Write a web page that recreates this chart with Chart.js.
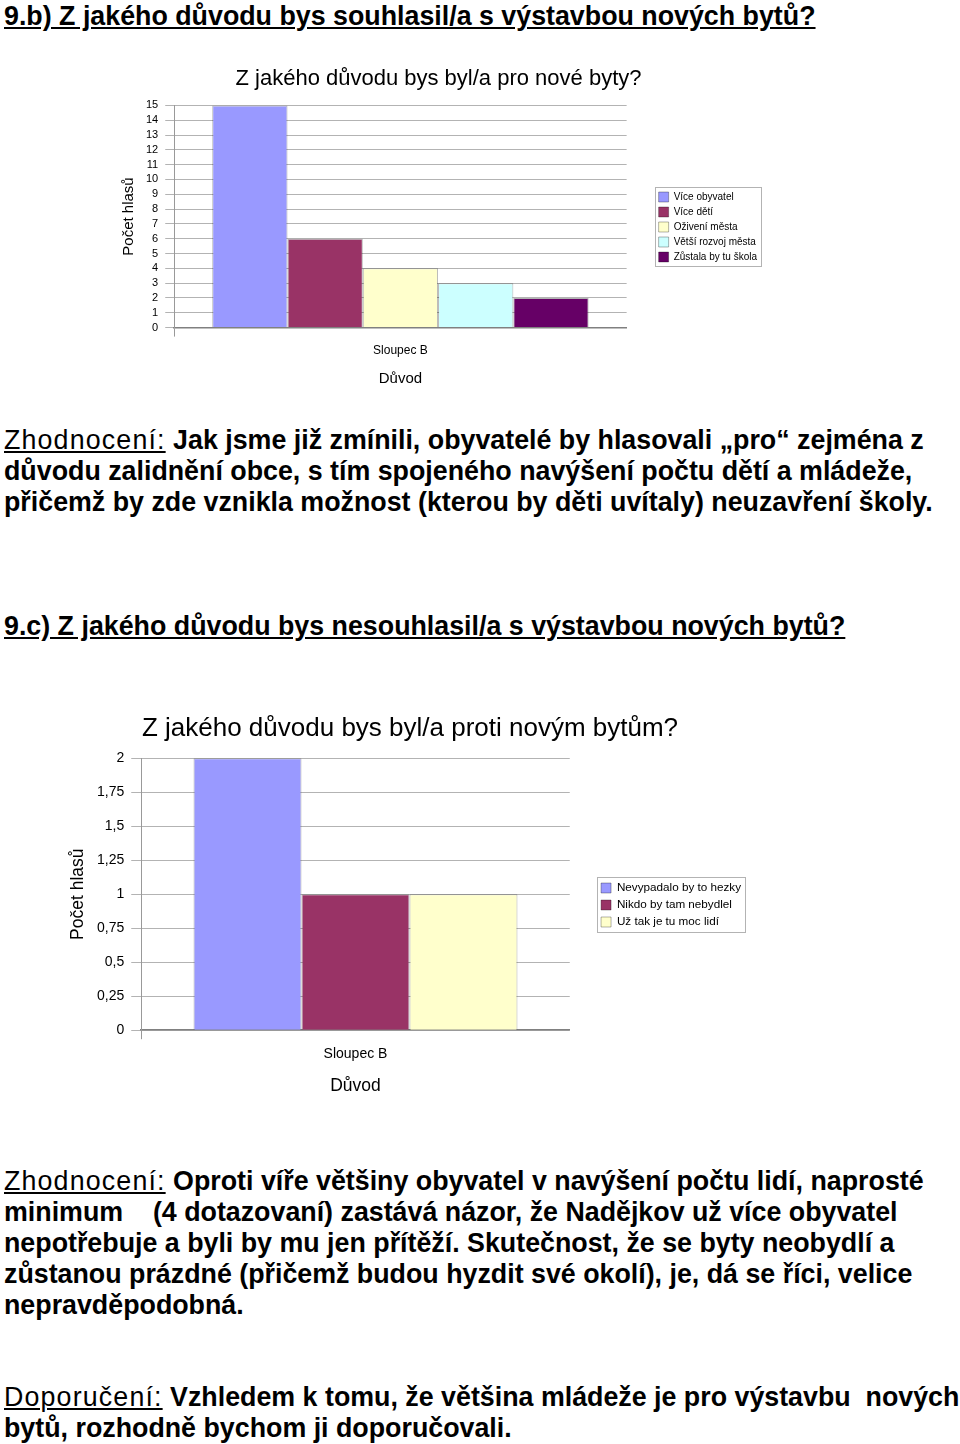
<!DOCTYPE html>
<html lang="cs">
<head>
<meta charset="utf-8">
<title>9.b / 9.c</title>
<script src="https://cdn.jsdelivr.net/npm/chart.js@4.4.1/dist/chart.umd.min.js"></script>
<style>
  html, body { margin: 0; padding: 0; background: #fff; }
  body { width: 960px; height: 1444px; position: relative; overflow: hidden;
         font-family: "Liberation Sans", Arial, sans-serif; color: #000; }
  .txt { position: absolute; left: 4px; font-size: 26.8px; line-height: 31px;
         font-weight: bold; white-space: pre; }
  .u { text-decoration: underline; }
  .lbl { font-weight: normal; text-decoration: underline; letter-spacing: 1.15px; }
  .box { position: absolute; }
</style>
</head>
<body>

<div class="txt u" style="top:1px">9.b) Z jakého důvodu bys souhlasil/a s výstavbou nových bytů?</div>

<div class="box" style="left:100px; top:55px; width:676px; height:340px">
  <canvas id="proChart"></canvas>
</div>

<div class="txt" style="top:425px"><span class="lbl">Zhodnocení:</span> Jak jsme již zmínili, obyvatelé by hlasovali „pro“ zejména z
důvodu zalidnění obce, s tím spojeného navýšení počtu dětí a mládeže,
přičemž by zde vznikla možnost (kterou by děti uvítaly) neuzavření školy.</div>

<div class="txt u" style="top:611px">9.c) Z jakého důvodu bys nesouhlasil/a s výstavbou nových bytů?</div>

<div class="box" style="left:55px; top:700px; width:710px; height:400px">
  <canvas id="protiChart"></canvas>
</div>

<div class="txt" style="top:1166px"><span class="lbl">Zhodnocení:</span> Oproti víře většiny obyvatel v navýšení počtu lidí, naprosté
minimum    (4 dotazovaní) zastává názor, že Nadějkov už více obyvatel
nepotřebuje a byli by mu jen přítěží. Skutečnost, že se byty neobydlí a
zůstanou prázdné (přičemž budou hyzdit své okolí), je, dá se říci, velice
nepravděpodobná.</div>

<div class="txt" style="top:1382px"><span class="lbl">Doporučení:</span> Vzhledem k tomu, že většina mládeže je pro výstavbu  nových
bytů, rozhodně bychom ji doporučovali.</div>

<script>
// --- data ---
const category = ['Sloupec B'];

const proReasons = ['Více obyvatel', 'Více dětí', 'Oživení města', 'Větší rozvoj města', 'Zůstala by tu škola'];
const proVotes = [15, 6, 4, 3, 2];
const proColors = ['#9999ff', '#993366', '#ffffcc', '#ccffff', '#660066'];

const protiReasons = ['Nevypadalo by to hezky', 'Nikdo by tam nebydlel', 'Už tak je tu moc lidí'];
const protiVotes = [2, 1, 1];
const protiColors = ['#9999ff', '#993366', '#ffffcc'];

const FONT = '"Liberation Sans", Arial, sans-serif';

// legendu odsunout kousek od grafu, nadpis posunout na střed celého obrázku
const boxShift = {
    id: 'boxShift',
    afterLayout(chart, args, opts) {
        const lg = chart.legend;
        if (lg && opts.legendDx) {
            lg.left += opts.legendDx;
            lg.right += opts.legendDx;
        }
        const tb = chart.titleBlock;
        if (tb && opts.titleDx) {
            tb.left += opts.titleDx;
            tb.right += opts.titleDx;
        }
    }
};

// rámeček kolem legendy
const legendFrame = {
    id: 'legendFrame',
    afterDraw(chart) {
        const boxes = chart.legend && chart.legend.legendHitBoxes;
        if (!boxes || !boxes.length) return;
        let l = Infinity, t = Infinity, r = -Infinity, b = -Infinity;
        boxes.forEach(h => {
            l = Math.min(l, h.left);
            t = Math.min(t, h.top);
            r = Math.max(r, h.left + h.width);
            b = Math.max(b, h.top + h.height);
        });
        const ctx = chart.ctx;
        ctx.save();
        ctx.strokeStyle = '#b3b3b3';
        ctx.lineWidth = 1;
        ctx.strokeRect(Math.round(l - 4) + 0.5, Math.round(t - 5) + 0.5, Math.round(r - l + 8), Math.round(b - t + 9));
        ctx.restore();
    }
};

function makeChart(id, cfg) {
    const datasets = cfg.labels.map((name, i) => ({
        label: name,
        data: [cfg.values[i]],
        backgroundColor: cfg.colors[i],
        borderColor: 'rgba(0,0,0,0.3)',
        borderWidth: 1,
        categoryPercentage: cfg.barPct,
        barPercentage: 1
    }));

    return new Chart(document.getElementById(id), {
        type: 'bar',
        data: { labels: category, datasets: datasets },
        plugins: [boxShift, legendFrame],
        options: {
            responsive: true,
            maintainAspectRatio: false,
            animation: false,
            layout: { padding: cfg.pad },
            plugins: {
                title: {
                    display: true,
                    text: cfg.title,
                    color: '#000',
                    font: { family: FONT, size: cfg.titleSize, weight: 'normal' },
                    padding: { top: 0, bottom: cfg.titleGap }
                },
                legend: {
                    position: 'right',
                    labels: {
                        color: '#000',
                        font: { family: FONT, size: cfg.legendSize },
                        boxWidth: 10,
                        boxHeight: 10,
                        padding: cfg.legendPad
                    }
                },
                boxShift: { legendDx: cfg.legendGap, titleDx: cfg.titleDx },
                tooltip: { enabled: false }
            },
            scales: {
                x: {
                    grid: {
                        display: true,
                        drawOnChartArea: false,
                        drawTicks: true,
                        tickLength: 9,
                        color: ctx => ctx.index === 0 ? '#999' : 'rgba(0,0,0,0)'
                    },
                    border: { display: true, color: '#808080', width: 1.5 },
                    ticks: { color: '#000', font: { family: FONT, size: cfg.xTickSize }, padding: 7 },
                    title: {
                        display: true,
                        text: 'Důvod',
                        color: '#000',
                        font: { family: FONT, size: cfg.axisTitleSize },
                        padding: { top: cfg.xTitleGap, bottom: 0 }
                    }
                },
                y: {
                    min: 0,
                    max: cfg.max,
                    grid: { color: '#b3b3b3', tickLength: cfg.tickLen },
                    border: { color: '#999' },
                    ticks: {
                        stepSize: cfg.step,
                        autoSkip: false,
                        color: '#000',
                        padding: 7,
                        font: { family: FONT, size: cfg.tickSize },
                        callback: v => String(v).replace('.', ',')
                    },
                    title: {
                        display: true,
                        text: 'Počet hlasů',
                        color: '#000',
                        font: { family: FONT, size: cfg.axisTitleSize },
                        padding: { top: 0, bottom: cfg.yTitleGap }
                    }
                }
            }
        }
    });
}

makeChart('proChart', {
    title: 'Z jakého důvodu bys byl/a pro nové byty?',
    labels: proReasons, values: proVotes, colors: proColors,
    barPct: 0.832, max: 15, step: 1,
    titleSize: 22, titleGap: 13, tickSize: 11, xTickSize: 12, axisTitleSize: 15, tickLen: 9,
    legendSize: 10, legendPad: 5, legendGap: 27, titleDx: 8.5, yTitleGap: 1, xTitleGap: 5,
    pad: { left: 20, right: 36, top: 11, bottom: 7 }
});

makeChart('protiChart', {
    title: 'Z jakého důvodu bys byl/a proti novým bytům?',
    labels: protiReasons, values: protiVotes, colors: protiColors,
    barPct: 0.756, max: 2, step: 0.25,
    titleSize: 26, titleGap: 14, tickSize: 14, xTickSize: 14, axisTitleSize: 17.5, tickLen: 10,
    legendSize: 11.7, legendPad: 5.3, legendGap: 26, titleDx: 13.5, yTitleGap: 1, xTitleGap: 6,
    pad: { left: 13, right: 40, top: 13, bottom: 3 }
});
</script>
</body>
</html>
